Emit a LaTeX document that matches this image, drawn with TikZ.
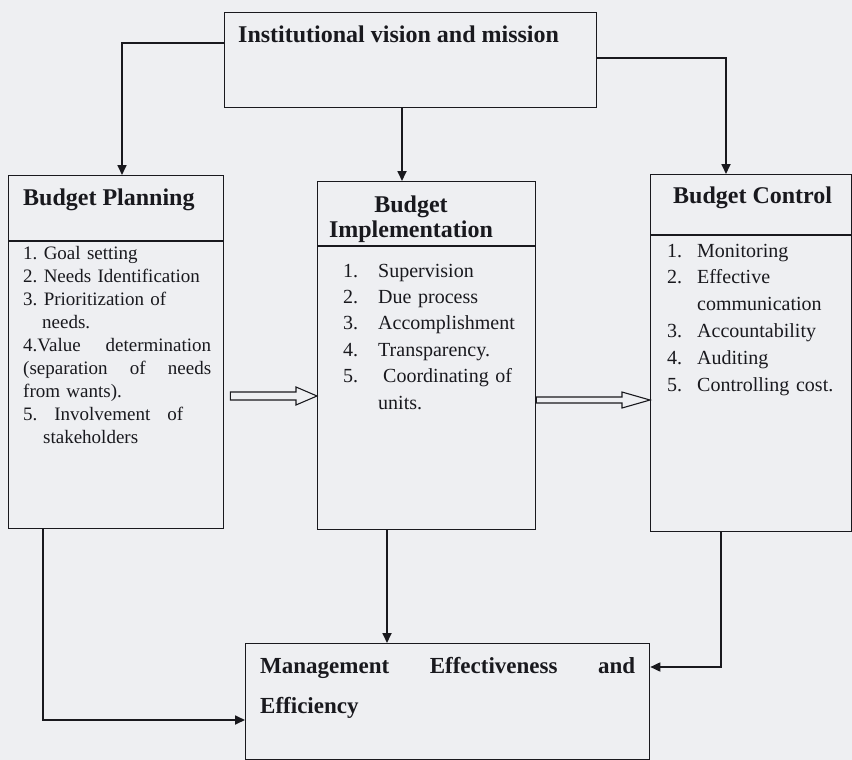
\documentclass[tikz,border=0pt]{standalone}
\usepackage{fontspec}
\setmainfont{Liberation Serif}
\usetikzlibrary{arrows.meta,calc}
\definecolor{ink}{RGB}{25,25,30}
\definecolor{paper}{RGB}{238,239,242}
\newcommand{\spreadline}[2]{\leavevmode\hbox to #1{#2}}
\tikzset{
  box/.style={draw=ink, line width=1.3pt, anchor=north west, inner sep=0pt},
  divline/.style={draw=ink, line width=1.3pt},
  conn/.style={draw=ink, line width=1.7pt, -{Triangle[length=10pt,width=9pt]}},
  hollow/.style={draw=ink, line width=1.1pt, fill=paper, line join=miter},
  ttl/.style={font=\fontsize{24}{25}\selectfont\bfseries\frenchspacing, anchor=base west, inner sep=0pt, text=ink},
  lst/.style={anchor=base west, inner sep=0pt, text=ink, align=left}
}
\begin{document}
\frenchspacing
\begin{tikzpicture}[x=1pt,y=-1pt]
\fill[paper] (0,0) rectangle (852,760);
\useasboundingbox (0,0) rectangle (852,760);

% boxes
\node[box, minimum width=372pt, minimum height=95pt] (top) at (224,12) {};
\node[box, minimum width=215pt, minimum height=353pt] (plan) at (8,175) {};
\node[box, minimum width=218pt, minimum height=348pt] (impl) at (317,181) {};
\node[box, minimum width=201pt, minimum height=357pt] (ctrl) at (650,174) {};
\node[box, minimum width=404pt, minimum height=116pt] (mgmt) at (245,643) {};

% dividers
\draw[divline] (plan.west |- 0,241) -- (plan.east |- 0,241);
\draw[divline] (impl.west |- 0,246) -- (impl.east |- 0,246);
\draw[divline] (ctrl.west |- 0,235) -- (ctrl.east |- 0,235);

% titles
\node[ttl] (ttop) at (238,43) {Institutional vision and mission};
\node[ttl] (tplan) at (23,205) {Budget Planning};
\node[ttl, anchor=base, align=center, text width=180pt] (timpl) at (411,212) {Budget\\Implementation};
\node[ttl] (tctrl) at (673,203) {Budget Control};
\node[ttl, text width=380pt, align=left, font=\fontsize{23}{40}\selectfont\bfseries] (tmgmt) at (260,673)
  {\spreadline{375pt}{Management\hfil Effectiveness\hfil and}\\Efficiency};

% lists
\node[lst, text width=200pt, font=\fontsize{19}{23.1}\selectfont\frenchspacing] (lplan) at (23,259)
  {1. Goal setting\\
   2. Needs Identification\\
   3. Prioritization of\\
   \hspace*{19pt}needs.\\
   \spreadline{188pt}{4.Value\hfil determination}\\
   \spreadline{188pt}{(separation\hfil of\hfil needs}\\
   from wants).\\
   \spreadline{160pt}{5.\hfil Involvement\hfil of}\\
   \hspace*{20pt}stakeholders};
\node[lst, text width=190pt, font=\fontsize{20}{26.4}\selectfont\frenchspacing] (limpl) at (343,277)
  {\makebox[35pt][l]{1.}Supervision\\
   \makebox[35pt][l]{2.}Due process\\
   \makebox[35pt][l]{3.}Accomplishment\\
   \makebox[35pt][l]{4.}Transparency.\\
   \makebox[35pt][l]{5.}\hspace*{5pt}Coordinating of\\
   \hspace*{35pt}units.};
\node[lst, text width=180pt, font=\fontsize{20}{26.8}\selectfont\frenchspacing] (lctrl) at (667,257)
  {\makebox[30pt][l]{1.}Monitoring\\
   \makebox[30pt][l]{2.}Effective\\
   \hspace*{30pt}communication\\
   \makebox[30pt][l]{3.}Accountability\\
   \makebox[30pt][l]{4.}Auditing\\
   \makebox[30pt][l]{5.}Controlling cost.};

% connectors
\draw[conn] (top.west |- 0,43) -| (122,0 |- plan.north);
\draw[conn] (402,0 |- top.south) -- (402,0 |- impl.north);
\draw[conn] (top.east |- 0,58) -| (726,0 |- ctrl.north);
\draw[conn] (43,0 |- plan.south) |- (mgmt.west |- 0,720);
\draw[conn] (387,0 |- impl.south) -- (387,0 |- mgmt.north);
\draw[conn] (721,0 |- ctrl.south) |- (mgmt.east |- 0,667);

% hollow arrows
\coordinate (h1s) at ($(plan.east |- 0,396)+(6,0)$);
\coordinate (h1e) at (impl.west |- 0,396);
\draw[hollow] ($(h1s)+(0,-4)$) -- ($(h1e)+(-21,-4)$) -- ($(h1e)+(-21,-9)$) -- (h1e)
  -- ($(h1e)+(-21,9)$) -- ($(h1e)+(-21,4)$) -- ($(h1s)+(0,4)$) -- cycle;
\coordinate (h2s) at (impl.east |- 0,400);
\coordinate (h2e) at (ctrl.west |- 0,400);
\draw[hollow] ($(h2s)+(0,-3)$) -- ($(h2e)+(-28,-3)$) -- ($(h2e)+(-28,-8)$) -- (h2e)
  -- ($(h2e)+(-28,8)$) -- ($(h2e)+(-28,3)$) -- ($(h2s)+(0,3)$) -- cycle;
\end{tikzpicture}
\end{document}
